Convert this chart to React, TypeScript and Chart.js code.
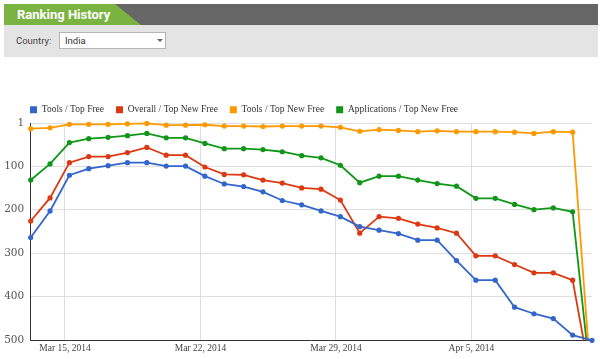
import React, { useEffect, useRef } from 'react';
import { Chart, registerables } from 'chart.js';

Chart.register(...registerables);

// ---- Data ----
const dates: string[] = [
  '2014-03-13', '2014-03-14', '2014-03-15', '2014-03-16', '2014-03-17', '2014-03-18',
  '2014-03-19', '2014-03-20', '2014-03-21', '2014-03-22', '2014-03-23', '2014-03-24',
  '2014-03-25', '2014-03-26', '2014-03-27', '2014-03-28', '2014-03-29', '2014-03-30',
  '2014-03-31', '2014-04-01', '2014-04-02', '2014-04-03', '2014-04-04', '2014-04-05',
  '2014-04-06', '2014-04-07', '2014-04-08', '2014-04-09', '2014-04-10', '2014-04-11',
];

const toolsTopFree: number[] = [
  264, 203, 121, 106, 99, 92, 92, 100, 100, 123, 141, 147, 159, 179, 189,
  203, 216, 239, 247, 255, 270, 270, 317, 362, 362, 424, 439, 450, 488, 500,
];
const overallTopNewFree: number[] = [
  226, 173, 92, 78, 78, 69, 57, 75, 75, 102, 119, 120, 132, 139, 150,
  153, 178, 254, 216, 220, 233, 242, 254, 306, 306, 326, 345, 345, 362, 605,
];
const toolsTopNewFree: number[] = [
  14, 12, 4, 4, 4, 3, 2, 6, 6, 5, 8, 8, 9, 8, 8,
  8, 11, 20, 16, 18, 21, 19, 21, 21, 21, 22, 25, 21, 22, 625,
];
const appsTopNewFree: number[] = [
  132, 95, 46, 37, 34, 30, 25, 35, 35, 48, 60, 60, 62, 67, 76,
  81, 98, 138, 123, 123, 132, 140, 146, 174, 174, 188, 200, 196, 205, 620,
];

const seriesNames: string[] = [
  'Tools / Top Free',
  'Overall / Top New Free',
  'Tools / Top New Free',
  'Applications / Top New Free',
];
const seriesColors: string[] = ['#3366cc', '#dc3912', '#ff9900', '#109618'];

const xTickDates: string[] = ['2014-03-15', '2014-03-22', '2014-03-29', '2014-04-05'];
const xTickLabels: string[] = ['Mar 15, 2014', 'Mar 22, 2014', 'Mar 29, 2014', 'Apr 5, 2014'];
const yTicks: number[] = [1, 100, 200, 300, 400, 500];

// samples are taken at 05:30 (IST) each day
const sampleHourOffset = 5.5 / 24;
const DAY = 86400000;
const dayOf = (d: string) => (Date.parse(d) - Date.parse(dates[0])) / DAY;

const legendShift = {
  id: 'legendShift',
  afterLayout(chart: any) {
    if (chart.legend) {
      chart.legend.left += 18;
      chart.legend.top += 1.5;
    }
  },
};

export default function App() {
  const ref = useRef<HTMLCanvasElement | null>(null);

  useEffect(() => {
    if (!ref.current) return;
    const allSeries = [toolsTopFree, overallTopNewFree, toolsTopNewFree, appsTopNewFree];
    const chart = new Chart(ref.current, {
      type: 'line',
      data: {
        datasets: allSeries.map((vals, i) => ({
          label: seriesNames[i],
          data: vals.map((v, j) => ({ x: dayOf(dates[j]) + sampleHourOffset, y: v })),
          borderColor: seriesColors[i],
          backgroundColor: seriesColors[i],
          pointBackgroundColor: seriesColors[i],
          pointBorderWidth: 0,
          pointRadius: 2.6,
          borderWidth: 1.8,
          tension: 0,
          clip: i === 0 ? false : ({ left: 5, top: 5, right: 5, bottom: 0 } as any),
        })),
      },
      plugins: [legendShift],
      options: {
        responsive: false,
        animation: false,
        layout: { padding: { left: 0, right: 8, top: 31.5, bottom: 2 } },
        plugins: {
          tooltip: { enabled: false },
          legend: {
            position: 'top',
            align: 'start',
            labels: {
              boxWidth: 7,
              boxHeight: 7,
              padding: 12,
              color: '#333',
              font: { family: "'Liberation Serif', serif", size: 9.5 },
              generateLabels: (c: any) =>
                (Chart.defaults.plugins.legend.labels.generateLabels as any)(c).map((l: any) => ({
                  ...l,
                  lineWidth: 0,
                })),
            },
          },
        },
        scales: {
          x: {
            type: 'linear',
            min: dayOf(dates[0]) + sampleHourOffset,
            max: dayOf(dates[dates.length - 1]) + sampleHourOffset,
            afterBuildTicks: (axis: any) => {
              axis.ticks = xTickDates.map((d) => ({ value: dayOf(d) }));
            },
            afterFit: (axis: any) => {
              axis.height = 16.7;
            },
            ticks: {
              autoSkip: false,
              maxRotation: 0,
              padding: 2,
              color: '#444',
              font: { family: "'Liberation Serif', serif", size: 9.5 },
              callback: (_v: any, i: number) => xTickLabels[i],
            },
            grid: { color: '#dddddd', drawTicks: false },
            border: { color: '#333', width: 1 },
          },
          y: {
            type: 'linear',
            reverse: true,
            min: 1,
            max: 500,
            afterBuildTicks: (axis: any) => {
              axis.ticks = yTicks.map((v) => ({ value: v }));
            },
            afterFit: (axis: any) => {
              axis.width = 30.7;
            },
            ticks: {
              padding: 6.5,
              color: '#555',
              font: { family: "'DejaVu Serif', serif", size: 10.5 },
            },
            grid: { color: '#dddddd', drawTicks: false },
            border: { color: '#333', width: 1 },
          },
        },
      },
    });
    return () => chart.destroy();
  }, []);

  return (
    <div
      style={{
        position: 'absolute',
        left: 0,
        top: 0,
        width: 600,
        height: 359,
        background: '#fff',
        overflow: 'hidden',
      }}
    >
      {/* header bar */}
      <div style={{ position: 'absolute', left: 4, top: 4, width: 594, height: 21, background: '#666666' }} />
      <div
        style={{
          position: 'absolute',
          left: 4,
          top: 4,
          width: 137,
          height: 21,
          background: '#7ab342',
          clipPath: 'polygon(0 0, 111px 0, 137px 100%, 0 100%)',
        }}
      />
      <div
        style={{
          position: 'absolute',
          left: 17,
          top: 4,
          height: 21,
          lineHeight: '21px',
          color: '#fff',
          fontFamily: '"Liberation Sans Narrow", Roboto, sans-serif',
          fontWeight: 'bold',
          fontSize: 13,
        }}
      >
        Ranking History
      </div>
      {/* filter panel */}
      <div style={{ position: 'absolute', left: 4, top: 25, width: 594, height: 32, background: '#e4e4e4' }} />
      <div
        style={{
          position: 'absolute',
          left: 16,
          top: 34,
          fontFamily: 'Roboto, sans-serif',
          fontSize: 9.5,
          color: '#444',
          lineHeight: '14px',
        }}
      >
        Country:
      </div>
      <div
        style={{
          position: 'absolute',
          left: 59,
          top: 32,
          width: 105,
          height: 15,
          background: '#fff',
          border: '1px solid #b5b5b5',
        }}
      >
        <div
          style={{
            position: 'absolute',
            left: 5,
            top: 0,
            lineHeight: '15px',
            fontFamily: 'Roboto, sans-serif',
            fontSize: 9.5,
            color: '#333',
          }}
        >
          India
        </div>
        <div
          style={{
            position: 'absolute',
            left: 97,
            top: 6,
            width: 0,
            height: 0,
            borderLeft: '3px solid transparent',
            borderRight: '3px solid transparent',
            borderTop: '3px solid #666',
          }}
        />
      </div>
      {/* chart */}
      <div style={{ position: 'absolute', left: 0, top: 60, width: 600, height: 299 }}>
        <canvas ref={ref} width={600} height={299} style={{ display: 'block' }} />
      </div>
    </div>
  );
}
